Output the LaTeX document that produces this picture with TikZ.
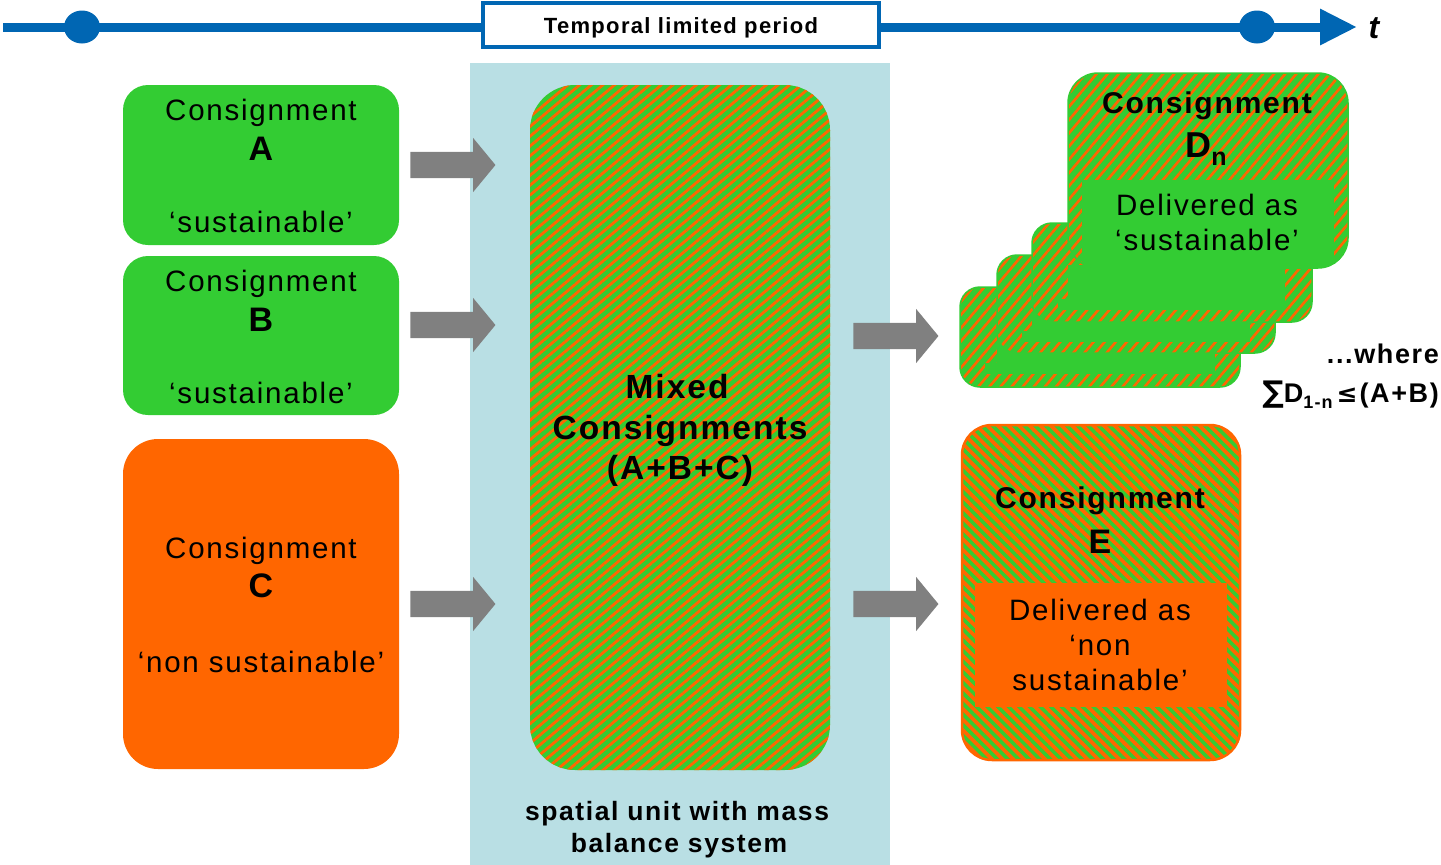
\documentclass[tikz,border=0pt]{standalone}
\usepackage{fontspec}
\setmainfont{Liberation Sans}[LetterSpace=6]
\newfontfamily\symfont{DejaVu Sans}
\usetikzlibrary{patterns.meta,shapes.arrows,arrows.meta}
\definecolor{cgreen}{RGB}{51,204,51}
\definecolor{corange}{RGB}{255,102,0}
\definecolor{cblue}{RGB}{0,102,179}
\definecolor{clight}{RGB}{185,223,228}
\definecolor{cgray}{RGB}{128,128,128}
\tikzset{
  txt/.style={inner sep=0pt, anchor=base, font=\fontsize{29.5}{34}\selectfont},
  btxt/.style={inner sep=0pt, anchor=base, font=\fontsize{30}{34}\selectfont\bfseries},
  bigtxt/.style={inner sep=0pt, anchor=base, font=\fontsize{34}{38}\selectfont\bfseries},
  greenbox/.style={fill=cgreen, draw=none, rounded corners=25pt, minimum width=276pt, inner sep=0pt},
  orangebox/.style={fill=corange, draw=none, rounded corners=35pt, minimum width=276pt, inner sep=0pt},
  mixhatch/.style={preaction={fill=cgreen}, pattern={Lines[angle=40,distance=7.5pt,line width=2.8pt]}, pattern color=corange},
  dhatch/.style={preaction={fill=cgreen}, pattern={Lines[angle=50,distance=8.5pt,line width=2.6pt]}, pattern color=corange},
  ehatch/.style={preaction={fill=corange}, pattern={Lines[angle=-45,distance=7.5pt,line width=3.5pt]}, pattern color=cgreen},
  arr/.style={single arrow, fill=cgray, draw=none, inner sep=0pt, minimum height=85pt,
    single arrow head extend=14pt, single arrow tip angle=101, text height=13pt, text depth=13pt, text width=0pt},
}
\begin{document}
\begin{tikzpicture}[x=1pt,y=-1pt]
\useasboundingbox (0,0) rectangle (1441,865);

% timeline
\coordinate (tstart) at (3,27);
\coordinate (tend) at (1357,27);
\draw[cblue, line width=9pt, -{Triangle[length=37pt,width=34pt]}] (tstart) -- (tend);
\fill[cblue] (82,27) ellipse [x radius=18pt, y radius=16.5pt];
\fill[cblue] (1257,27) ellipse [x radius=18pt, y radius=16.5pt];
\node[draw=cblue, line width=3.5pt, fill=white, minimum width=396pt, minimum height=44pt, inner sep=0pt] (tbox) at (681,25) {};
\node[inner sep=0pt, anchor=base, font=\fontsize{22}{26}\selectfont\bfseries] (tlabel) at (681,33) {Temporal limited period};
\node[inner sep=0pt, anchor=base, font=\fontsize{32}{36}\selectfont\bfseries\itshape] (tt) at (1374,38) {t};

% spatial unit
\node[fill=clight, minimum width=420pt, minimum height=802pt, inner sep=0pt] (unit) at (680,464) {};
\node[mixhatch, rounded corners=45pt, minimum width=300pt, minimum height=685pt, inner sep=0pt] (mix) at (680,427.5) {};
\node[inner sep=0pt, anchor=base, font=\fontsize{33.5}{38}\selectfont\bfseries] (mix1) at (677,398) {Mixed};
\node[inner sep=0pt, anchor=base, font=\fontsize{33.5}{38}\selectfont\bfseries] (mix2) at (680,439) {Consignments};
\node[inner sep=0pt, anchor=base, font=\fontsize{33.5}{38}\selectfont\bfseries] (mix3) at (680,479) {(A+B+C)};
\node[inner sep=0pt, anchor=base, font=\fontsize{26.5}{30}\selectfont\bfseries] (sp1) at (677,820) {spatial unit with mass};
\node[inner sep=0pt, anchor=base, font=\fontsize{26.5}{30}\selectfont\bfseries] (sp2) at (679,852) {balance system};

% input consignments
\node[greenbox, minimum height=160pt] (A) at (261,165) {};
\node[txt] (A1) at (261,120) {Consignment};
\node[bigtxt] (A2) at (261,160) {A};
\node[txt] (A3) at (261,232) {‘sustainable’};

\node[greenbox, minimum height=159pt] (B) at (261,335.5) {};
\node[txt] (B1) at (261,291) {Consignment};
\node[bigtxt] (B2) at (261,331) {B};
\node[txt] (B3) at (261,403) {‘sustainable’};

\node[orangebox, minimum height=330pt] (C) at (261,604) {};
\node[txt] (C1) at (261,558) {Consignment};
\node[bigtxt] (C2) at (261,597) {C};
\node[txt] (C3) at (261,672) {‘non sustainable’};

% arrows
\node[arr] (a1) at (447.5,165) {};
\node[arr] (a2) at (447.5,325) {};
\node[arr] (a3) at (447.5,604) {};
\node[arr] (a4) at (890.5,336) {};
\node[arr] (a5) at (890.5,604) {};

% stacked D cards (back to front)
\node[dhatch, draw=cgreen, line width=1.5pt, rounded corners=20pt, minimum width=280pt, minimum height=100pt, inner sep=0pt] (d1) at (1100,337) {};
\fill[cgreen] (997,345) rectangle (1215,374);
\fill[cgreen] (985,363) rectangle (1000,374);
\node[dhatch, draw=cgreen, line width=1.5pt, rounded corners=20pt, minimum width=278pt, minimum height=98pt, inner sep=0pt] (d2) at (1136,304) {};
\fill[cgreen] (1032,312) rectangle (1250,342);
\fill[cgreen] (1022,331) rectangle (1035,342);
\node[dhatch, draw=cgreen, line width=1.5pt, rounded corners=20pt, minimum width=280pt, minimum height=99pt, inner sep=0pt] (d3) at (1172,272.5) {};
\fill[cgreen] (1068,265) rectangle (1285,310);
\fill[cgreen] (1058,299) rectangle (1070,310);
\node[dhatch, draw=cgreen, line width=1.5pt, rounded corners=30pt, minimum width=280pt, minimum height=195pt, inner sep=0pt] (dn) at (1208,170.5) {};
\begin{scope}
\clip[rounded corners=30pt] (1068,73) rectangle (1348,268);
\fill[cgreen] (1082,180) rectangle (1334,270);
\end{scope}
\node[btxt] (dn1) at (1207,113) {Consignment};
\node[inner sep=0pt, anchor=base, font=\bfseries] (dn2) at (1206,157) {\fontsize{36}{40}\selectfont D\raisebox{-8pt}{\fontsize{25}{28}\selectfont n}};
\node[txt] (dn3) at (1207,215) {Delivered as};
\node[txt] (dn4) at (1207,250) {‘sustainable’};

\node[inner sep=0pt, anchor=base east, font=\fontsize{27}{30}\selectfont\bfseries] (where) at (1439,363) {...where};
\node[inner sep=0pt, anchor=base east, font=\fontsize{27}{30}\selectfont\bfseries] (sum) at (1439,402)
  {{\symfont\fontsize{30}{30}\selectfont ∑}D\raisebox{-6pt}{\fontsize{18}{20}\selectfont 1-n}\hspace{4pt}{\symfont\fontsize{25}{30}\selectfont ≤}\hspace{2pt}(A+B)};

% E card
\node[ehatch, draw=corange, line width=2.5pt, rounded corners=30pt, minimum width=278pt, minimum height=335pt, inner sep=0pt] (E) at (1101,592.5) {};
\node[fill=corange, minimum width=252pt, minimum height=124pt, inner sep=0pt] (Ein) at (1101,645) {};
\node[btxt] (E1) at (1100,508) {Consignment};
\node[bigtxt] (E2) at (1100,553) {E};
\node[txt] (E3) at (1100,620) {Delivered as};
\node[txt] (E4) at (1100,655) {‘non};
\node[txt] (E5) at (1100,690) {sustainable’};
\end{tikzpicture}
\end{document}
